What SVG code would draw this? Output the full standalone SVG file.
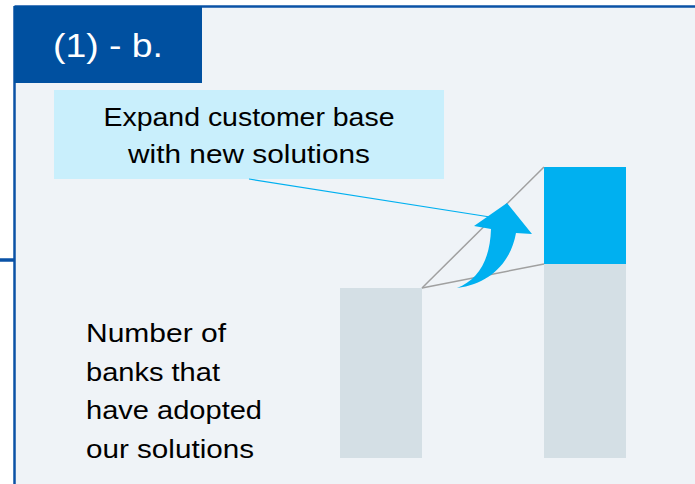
<svg xmlns="http://www.w3.org/2000/svg" width="695" height="484" viewBox="0 0 695 484">
  <style>
    .t { font-family: "Liberation Sans", Arial, sans-serif; fill: #000; }
    .bar { fill: #d4dfe5; }
    .guide { stroke: #a0a0a0; stroke-width: 1.5; fill: none; }
  </style>
  <rect x="0" y="0" width="695" height="484" fill="#ffffff"/>
  <g id="panel">
    <rect x="14.5" y="6.5" width="690" height="490" fill="#eff3f7"/>
    <line x1="14.5" y1="6.5" x2="695" y2="6.5" stroke="#0a52a6" stroke-width="2.5"/>
    <line x1="14.5" y1="6" x2="14.5" y2="484" stroke="#0a52a6" stroke-width="2.5"/>
    <line x1="0" y1="260" x2="14.5" y2="260" stroke="#0a52a6" stroke-width="3.5"/>
  </g>
  <g id="title">
    <rect x="14" y="6" width="188" height="77" fill="#0050a0"/>
    <text class="t" x="53" y="57" font-size="34" style="fill:#ffffff" textLength="110" lengthAdjust="spacingAndGlyphs">(1) - b.</text>
  </g>
  <g id="bar1">
    <rect class="bar" x="340" y="288" width="82" height="170"/>
  </g>
  <g id="bar2">
    <rect class="bar" x="544" y="264" width="82" height="194"/>
    <rect x="544" y="167" width="82" height="97" fill="#00b0f0"/>
  </g>
  <g id="callout">
    <rect x="54" y="90" width="390" height="89" fill="#c9effc"/>
    <text class="t" x="249" y="126" font-size="26" text-anchor="middle" textLength="291" lengthAdjust="spacingAndGlyphs">Expand customer base</text>
    <text class="t" x="249" y="163" font-size="26" text-anchor="middle" textLength="242" lengthAdjust="spacingAndGlyphs">with new solutions</text>
  </g>
  <g id="label">
    <text class="t" x="86" y="342" font-size="26" textLength="140" lengthAdjust="spacingAndGlyphs">Number of</text>
    <text class="t" x="86" y="380.5" font-size="26" textLength="134" lengthAdjust="spacingAndGlyphs">banks that</text>
    <text class="t" x="86" y="419" font-size="26" textLength="176" lengthAdjust="spacingAndGlyphs">have adopted</text>
    <text class="t" x="86" y="457.5" font-size="26" textLength="168" lengthAdjust="spacingAndGlyphs">our solutions</text>
  </g>
  <g id="connectors">
    <line class="guide" x1="422" y1="288" x2="544" y2="167"/>
    <line class="guide" x1="422" y1="288" x2="544" y2="264"/>
    <line x1="249" y1="179" x2="490" y2="217" stroke="#00b0f0" stroke-width="1.2"/>
    <path d="M457,288 C477,280 490,262 491,229 L474,226 L507,203 L532,234 L516,233 C511,262 490,284 457,288 Z" fill="#00b0f0"/>
  </g>
</svg>
